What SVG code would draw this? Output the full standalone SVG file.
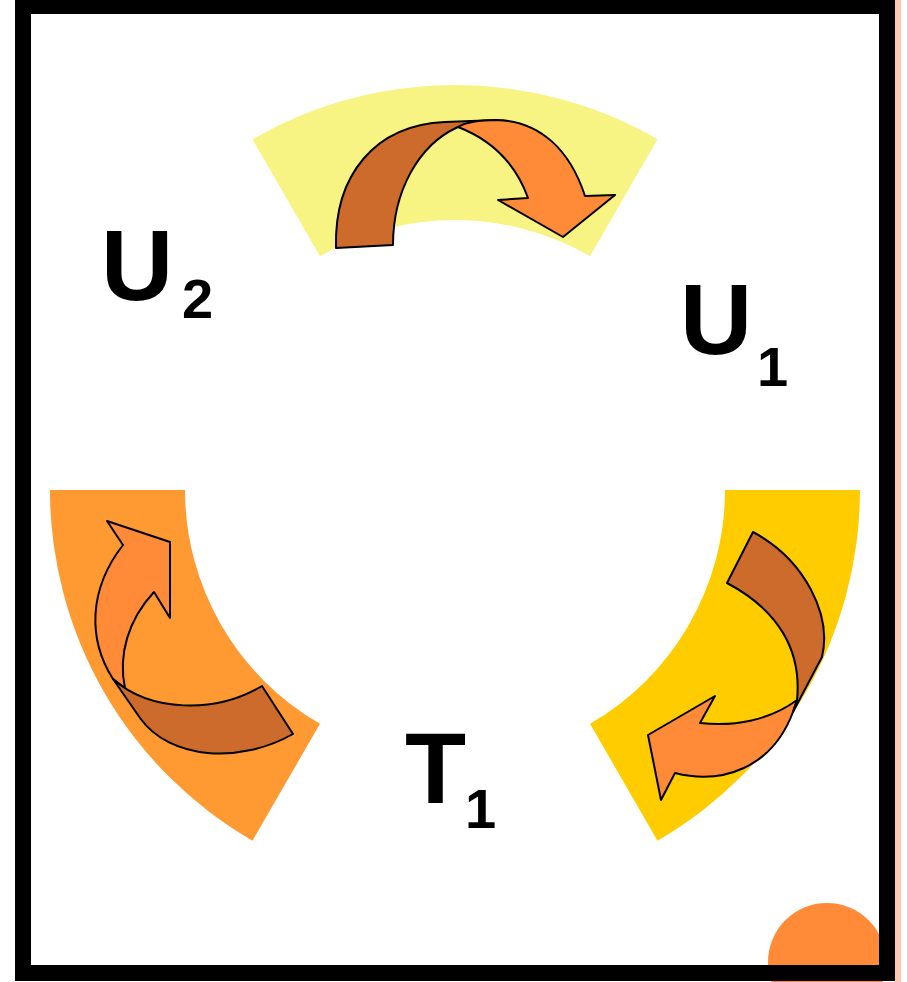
<svg xmlns="http://www.w3.org/2000/svg" width="907" height="982" viewBox="0 0 907 982">
<style>
.lbl{font-family:"Liberation Sans","DejaVu Sans",sans-serif;fill:#000;font-weight:bold}
.big{font-size:100px}
.sub{font-size:56px}
.dk{fill:#CC6B2C;stroke:#000;stroke-width:2;stroke-linejoin:round}
.lt{fill:#FF8B38;stroke:#000;stroke-width:2;stroke-linejoin:round}
</style>
<rect x="0" y="0" width="907" height="982" fill="#fff"/>
<rect x="895" y="0" width="6" height="982" fill="#FFC8B4"/>
<g id="corner-dot"><circle cx="827" cy="962" r="59" fill="#FF8B38"/></g>
<g id="sector-top"><path d="M252.5,139.3 A405,405 0 0 1 657.5,139.3 L590,256.2 A270,270 0 0 0 320,256.2 Z" fill="#F8F484"/></g>
<g id="sector-left"><path d="M50,490 A405,405 0 0 0 252.5,840.7 L320,723.8 A270,270 0 0 1 185,490 Z" fill="#FF9A33"/></g>
<g id="sector-right"><path d="M860,490 A405,405 0 0 1 657.5,840.7 L590,723.8 A270,270 0 0 0 725,490 Z" fill="#FFCC00"/></g>
<g id="connectors">
<g id="arrow-top">
<path class="dk" d="M336,248 C334,175 375,125 445,122 L497,120 L458,127 C418,145 393,192 393,245 Z"/>
<path class="lt" d="M458,127 C492,140 516,165 528,198 L498,200 L563,237 L615,195 L585,196 C570,150 540,121 497,120 C480,120 466,122 458,127 Z"/>
</g>
<g id="arrow-left">
<path class="lt" d="M107,521 L170,542 L170,618 L154,592 C128,620 118,655 125,688 L113,679 C88,640 88,590 123,545 Z"/>
<path class="dk" d="M113,679 C150,712 215,714 262,686 L293,734 C240,764 170,760 140,718 Z"/>
</g>
<g id="arrow-right">
<path class="lt" d="M797,700 C770,720 735,727 700,723 L715,696 L648,735 L661,800 L675,773 C722,785 772,768 793,712 Z"/>
<path class="dk" d="M753,532 C805,560 832,615 822,657 L793,712 L797,700 C802,650 778,610 727,583 Z"/>
</g>
</g>
<g id="label-U2"><text class="lbl big" x="101" y="300">U</text><text class="lbl sub" x="182" y="318">2</text></g>
<g id="label-U1"><text class="lbl big" x="680" y="354">U</text><text class="lbl sub" x="757" y="386">1</text></g>
<g id="label-T1"><text class="lbl big" x="405" y="803">T</text><text class="lbl sub" x="465" y="828">1</text></g>
<rect id="frame" x="23" y="6" width="864" height="967" fill="none" stroke="#000" stroke-width="16"/>
</svg>
